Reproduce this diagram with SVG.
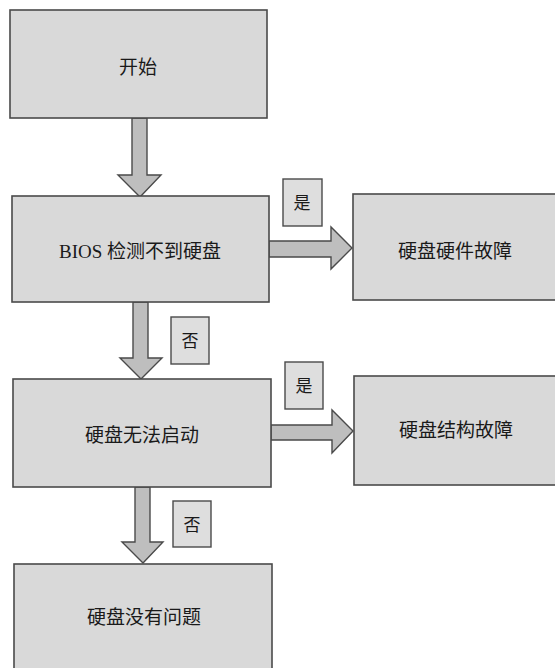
<svg xmlns="http://www.w3.org/2000/svg" width="555" height="668" viewBox="0 0 555 668">
<style>
.box{fill:#d9d9d9;stroke:#4a4a4a;stroke-width:1.6}
.lbl{fill:#dedede;stroke:#4a4a4a;stroke-width:1.4}
.arr{fill:#bebebe;stroke:#4a4a4a;stroke-width:1.4;stroke-linejoin:miter}
.t{font-family:"Liberation Serif","Noto Sans CJK SC",serif;font-size:19px;fill:#1a1a1a;text-anchor:middle;dominant-baseline:central}
.tl{font-family:"Liberation Serif","Noto Sans CJK SC",serif;font-size:17px;fill:#1a1a1a;text-anchor:middle;dominant-baseline:central}
</style>
<rect width="555" height="668" fill="#ffffff"/>
<g id="connectors">
<polygon class="arr" points="132,118 147,118 147,175 161,175 140,197 118,175 132,175"/>
<polygon class="arr" points="269,241 331,241 331,227 352,248 331,269 331,257 269,257"/>
<polygon class="arr" points="133,302 148,302 148,358 162,358 141,379 120,358 133,358"/>
<polygon class="arr" points="271,425 332,425 332,410 353,431 332,453 332,440 271,440"/>
<polygon class="arr" points="135,487 150,487 150,542 163,542 143,563 122,542 135,542"/>
</g>
<g id="start">
<rect class="box" x="10" y="10" width="257" height="108"/>
<text class="t" x="138" y="67">开始</text>
</g>
<g id="bios">
<rect class="box" x="12" y="196" width="257" height="106"/>
<text class="t" x="140" y="251">BIOS 检测不到硬盘</text>
</g>
<g id="yes1">
<rect class="lbl" x="283" y="179" width="39" height="47"/>
<text class="tl" x="302" y="203">是</text>
</g>
<g id="hwfault">
<rect class="box" x="353" y="194" width="220" height="106"/>
<text class="t" x="455" y="251">硬盘硬件故障</text>
</g>
<g id="no1">
<rect class="lbl" x="171" y="317" width="38" height="47"/>
<text class="tl" x="190" y="341">否</text>
</g>
<g id="noboot">
<rect class="box" x="13" y="379" width="258" height="108"/>
<text class="t" x="142" y="435">硬盘无法启动</text>
</g>
<g id="yes2">
<rect class="lbl" x="285" y="362" width="38" height="47"/>
<text class="tl" x="304" y="386">是</text>
</g>
<g id="structfault">
<rect class="box" x="354" y="376" width="220" height="109"/>
<text class="t" x="456" y="430">硬盘结构故障</text>
</g>
<g id="no2">
<rect class="lbl" x="173" y="501" width="38" height="46"/>
<text class="tl" x="192" y="525">否</text>
</g>
<g id="ok">
<rect class="box" x="14" y="564" width="258" height="120"/>
<text class="t" x="144" y="617">硬盘没有问题</text>
</g>
</svg>
